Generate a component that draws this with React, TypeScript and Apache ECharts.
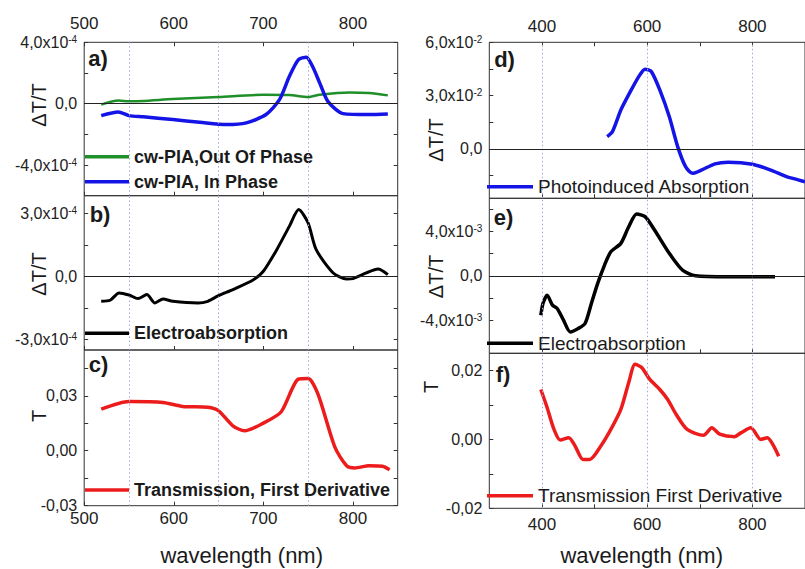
import React, { useEffect, useRef } from "react";
import * as echarts from "echarts";

// ---------- DATA ----------
// Panel a (values in units of 1e-4)
const aOutX = [519, 538, 550, 599, 650, 700, 729, 750, 763, 796, 818, 839];
const aOutY = [-0.06, 0.21, 0.15, 0.30, 0.43, 0.58, 0.56, 0.43, 0.58, 0.73, 0.69, 0.54];
const aInX = [519, 538, 550, 566, 599, 629, 659, 681, 703, 718, 729, 739, 748, 755, 763, 772, 789, 818, 839];
const aInY = [-0.78, -0.54, -0.78, -0.86, -1.04, -1.21, -1.36, -1.25, -0.71, 0.26, 1.77, 2.86, 3.03, 2.42, 1.34, 0.15, -0.65, -0.71, -0.67];
// Panel b (units of 1e-4)
const bX = [519, 529, 539, 550, 560, 570, 579, 588, 599, 627, 638, 650, 666, 689, 700, 715, 729, 739.5, 750, 759, 778, 793, 800, 815, 828, 839];
const bY = [-1.19, -1.14, -0.79, -0.89, -1.06, -0.87, -1.27, -1.08, -1.19, -1.27, -1.19, -0.92, -0.63, -0.16, 0.24, 1.27, 2.38, 3.18, 2.54, 1.27, 0.16, -0.13, -0.11, 0.16, 0.35, 0.08];
// Panel c
const cX = [519, 550, 588, 610, 638, 650, 666, 679, 700, 720, 739, 750, 761, 780, 793, 802, 818, 833, 841];
const cY = [0.0227, 0.0269, 0.0264, 0.0242, 0.0237, 0.0218, 0.0136, 0.0109, 0.0151, 0.0213, 0.0391, 0.0395, 0.0309, 0.0018, -0.0082, -0.0094, -0.0082, -0.0085, -0.0104];
// Panel d (units of 1e-2)
const dX = [524, 534, 550, 568, 584, 596, 608, 624, 642, 658, 673, 686, 704, 729, 754, 800, 834, 865, 887, 900];
const dY = [0.69, 0.97, 2.19, 3.22, 4.07, 4.49, 4.35, 3.32, 1.82, 0.13, -1.0, -1.37, -1.18, -0.84, -0.75, -0.86, -1.18, -1.56, -1.74, -1.85];
// Panel e (units of 1e-3)
const eX = [398, 402, 410, 420, 429, 441, 454, 469, 482, 494, 506, 519, 531, 550, 565, 580, 596, 614, 642, 667, 692, 754, 843];
const eY = [-3.56, -2.5, -1.75, -2.65, -2.95, -4.0, -5.07, -4.76, -4.31, -2.5, -0.69, 0.97, 2.17, 2.93, 4.43, 5.58, 5.34, 4.14, 2.03, 0.52, 0, -0.09, -0.09];
// Panel f
const fX = [398, 410, 423, 435, 451, 463, 478, 491, 512, 531, 550, 565, 577, 590, 605, 624, 639, 655, 676, 707, 723, 738, 766, 778, 797, 816, 828, 850];
const fY = [0.0145, 0.0092, 0.0029, -0.0002, 0.0005, -0.0019, -0.0058, -0.0058, -0.0019, 0.0029, 0.0087, 0.0165, 0.0218, 0.0208, 0.0174, 0.0145, 0.0116, 0.0073, 0.0029, 0.0012, 0.0034, 0.0015, 0.0008, 0.0019, 0.0034, 0, 0.0005, -0.0049];

// Series names
const nameAOut = "cw-PIA,Out Of Phase";
const nameAIn = "cw-PIA, In Phase";
const nameB = "Electroabsorption";
const nameC = "Transmission, First Derivative";
const nameD = "Photoinduced Absorption";
const nameE = "Electroabsorption ";
const nameF = "Transmission First Derivative";

// Ticks and labels
const leftXTicks = [500, 600, 700, 800];
const leftXLabels = [500, 600, 700, 800];
const rightXTicks = [400, 500, 600, 700, 800];
const rightXLabels = [400, 600, 800];
const leftGuides = [550, 650, 750];
const rightGuides = [400, 600, 800];

const aYTicks = [-4, -2, 0, 2, 4];
const aYLabelVals = [-4, 0, 4];
const aYLabelTxt = ["-4,0x10^-4", "0,0", "4,0x10^-4"];
const bYTicks = [-3, -1.5, 0, 1.5, 3];
const bYLabelVals = [-3, 0, 3];
const bYLabelTxt = ["-3,0x10^-4", "0,0", "3,0x10^-4"];
const cYTicks = [-0.03, -0.015, 0, 0.015, 0.03, 0.045];
const cYLabelVals = [-0.03, 0, 0.03];
const cYLabelTxt = ["-0,03", "0,00", "0,03"];
const dYTicks = [-1.5, 0, 1.5, 3, 4.5, 6];
const dYLabelVals = [0, 3, 6];
const dYLabelTxt = ["0,0", "3,0x10^-2", "6,0x10^-2"];
const eYTicks = [-6, -4, -2, 0, 2, 4, 6];
const eYLabelVals = [-4, 0, 4];
const eYLabelTxt = ["-4,0x10^-3", "0,0", "4,0x10^-3"];
const fYTicks = [-0.02, -0.01, 0, 0.01, 0.02];
const fYLabelVals = [-0.02, 0, 0.02];
const fYLabelTxt = ["-0,02", "0,00", "0,02"];

// ---------- STYLE ----------
const FONT = "'Liberation Sans', Arial, Helvetica, sans-serif";
const AX = "#333";
const GUIDE = "#a6a6d6";
const GREEN = "#1f8f2a";
const BLUE = "#1414e6";
const RED = "#ec1c1c";
const BLACK = "#000";

const zip = (xs: number[], ys: number[]) => xs.map((x, i) => [x, ys[i]]);

const yFormatter = (vals: number[], txt: string[]) => (v: number) => {
  const i = vals.findIndex((x) => Math.abs(x - v) < 1e-9);
  if (i < 0) return "";
  const [m, s] = txt[i].split("^");
  return s ? `{m|${m}}{s|${s}}` : `{m|${m}}`;
};

const yRich = {
  m: { fontSize: 16, fontFamily: FONT, color: "#222" },
  s: { fontSize: 10, fontFamily: FONT, color: "#222", verticalAlign: "top" },
};

const grids = [
  { left: 84.2, right: 407.3, top: 42.3, height: 153.4 },
  { left: 84.2, right: 407.3, top: 195.7, height: 154.3 },
  { left: 84.2, right: 407.3, top: 350, height: 155.7 },
  { left: 489.3, right: -7.7, top: 42.3, height: 156 },
  { left: 489.3, right: -7.7, top: 198.3, height: 155 },
  { left: 489.3, right: -7.7, top: 353.3, height: 155 },
].map((g) => ({ ...g, show: true, borderColor: AX, borderWidth: 1, backgroundColor: "transparent", containLabel: false }));

const tick = (vals: number[]) => ({ show: true, inside: true, length: 4, customValues: vals, lineStyle: { color: AX } });

const xAx = (gi: number, left: boolean, position: string, labels: number[] | null, margin: number) => ({
  type: "value",
  gridIndex: gi,
  position,
  min: left ? 500 : 300,
  max: left ? 850 : 900,
  axisLine: { show: false, onZero: false },
  splitLine: { show: false },
  axisTick: tick(left ? leftXTicks : rightXTicks),
  axisLabel: labels
    ? { show: true, customValues: labels, margin, fontSize: 17, fontFamily: FONT, color: "#222" }
    : { show: false },
});

const yAx = (gi: number, min: number, max: number, ticks: number[], lv: number[] | null, lt: string[] | null, position = "left") => ({
  type: "value",
  gridIndex: gi,
  position,
  min,
  max,
  axisLine: { show: false, onZero: false },
  splitLine: { show: false },
  axisTick: tick(ticks),
  axisLabel: lv && lt
    ? { show: true, customValues: lv, margin: 7, formatter: yFormatter(lv, lt), rich: yRich }
    : { show: false },
});

const guides = (xs: number[], zero: boolean) => ({
  silent: true,
  symbol: ["none", "none"],
  label: { show: false },
  emphasis: { disabled: true },
  animation: false,
  data: [
    ...xs.map((x) => ({ xAxis: x, lineStyle: { type: [1.5, 2.5], color: GUIDE, width: 1 } })),
    ...(zero ? [{ yAxis: 0, lineStyle: { type: "solid", color: "#222", width: 1 } }] : []),
  ],
});

const line = (name: string, xi: number, yi: number, data: number[][], color: string, width: number, ml: any) => ({
  type: "line",
  name,
  xAxisIndex: xi,
  yAxisIndex: yi,
  data,
  color,
  itemStyle: { color },
  showSymbol: false,
  smooth: 0.25,
  lineStyle: { color, width, join: "round" },
  emphasis: { disabled: true },
  markLine: ml,
  z: 3,
});

const legend = (names: string[], left: number, top: number, bold: boolean, size: number, iw: number, gap = 7) => ({
  data: names,
  orient: "vertical",
  left,
  top,
  padding: 0,
  itemGap: gap,
  icon: "rect",
  itemWidth: iw,
  itemHeight: 3.5,
  selectedMode: false,
  textStyle: { fontSize: size, fontFamily: FONT, fontWeight: bold ? "bold" : "normal", color: "#1a1a1a" },
});

const txt = (text: string, x: number, y: number, size: number, bold = false, rot = 0) => ({
  type: "text",
  x,
  y,
  rotation: rot,
  silent: true,
  style: {
    text,
    fontSize: size,
    fontFamily: FONT,
    fontWeight: bold ? "bold" : "normal",
    fill: "#1a1a1a",
    textAlign: "center",
    textVerticalAlign: "middle",
  },
});

const option = {
  animation: false,
  backgroundColor: "#fff",
  grid: grids,
  xAxis: [
    xAx(0, true, "bottom", null, 4),
    xAx(1, true, "bottom", null, 4),
    xAx(2, true, "bottom", leftXLabels, 4),
    xAx(3, false, "bottom", null, 4),
    xAx(4, false, "bottom", null, 4),
    xAx(5, false, "bottom", rightXLabels, 8),
    xAx(0, true, "top", leftXLabels, 10),
    xAx(3, false, "top", rightXLabels, 7),
  ],
  yAxis: [
    yAx(0, -6, 4, aYTicks, aYLabelVals, aYLabelTxt),
    yAx(1, -3.51, 3.84, bYTicks, bYLabelVals, bYLabelTxt),
    yAx(2, -0.03, 0.055, cYTicks, cYLabelVals, cYLabelTxt),
    yAx(3, -2.78, 6, dYTicks, dYLabelVals, dYLabelTxt),
    yAx(4, -7, 7, eYTicks, eYLabelVals, eYLabelTxt),
    yAx(5, -0.02, 0.025, fYTicks, fYLabelVals, fYLabelTxt),
    yAx(0, -6, 4, aYTicks, null, null, "right"),
    yAx(1, -3.51, 3.84, bYTicks, null, null, "right"),
    yAx(2, -0.03, 0.055, cYTicks, null, null, "right"),
  ],
  legend: [
    legend([nameAOut, nameAIn], 85, 147.7, true, 18, 44, 7),
    legend([nameB], 85, 324.3, true, 18, 44),
    legend([nameC], 85, 481, true, 18, 44),
    legend([nameD], 487, 177.2, false, 19, 46),
    legend([nameE], 487, 333.8, false, 19, 46),
    legend([nameF], 487, 486.2, false, 19, 46),
  ],
  series: [
    line(nameAOut, 0, 0, zip(aOutX, aOutY), GREEN, 2.5, guides(leftGuides, true)),
    line(nameAIn, 0, 0, zip(aInX, aInY), BLUE, 3.5, undefined),
    line(nameB, 1, 1, zip(bX, bY), BLACK, 3, guides(leftGuides, true)),
    line(nameC, 2, 2, zip(cX, cY), RED, 3.5, guides(leftGuides, false)),
    line(nameD, 3, 3, zip(dX, dY), BLUE, 3.5, guides(rightGuides, true)),
    line(nameE, 4, 4, zip(eX, eY), BLACK, 3.5, guides(rightGuides, true)),
    line(nameF, 5, 5, zip(fX, fY), RED, 3.5, guides(rightGuides, false)),
  ],
  graphic: [
    txt("ΔT/T", 38.5, 105, 20, false, Math.PI / 2),
    txt("ΔT/T", 39, 274, 20, false, Math.PI / 2),
    txt("T", 38.5, 416, 20, false, Math.PI / 2),
    txt("ΔT/T", 436, 140, 20, false, Math.PI / 2),
    txt("ΔT/T", 436, 276.5, 20, false, Math.PI / 2),
    txt("T", 431, 387, 20, false, Math.PI / 2),
    txt("a)", 98, 58, 22, true),
    txt("b)", 100, 214, 22, true),
    txt("c)", 98.5, 364, 22, true),
    txt("d)", 504.5, 59, 22, true),
    txt("e)", 503.5, 217.5, 22, true),
    txt("f)", 503, 374, 22, true),
    txt("wavelength (nm)", 241.7, 555, 22),
    txt("wavelength (nm)", 641.7, 555, 22),
  ],
};

export default function App() {
  const ref = useRef<HTMLDivElement>(null);
  useEffect(() => {
    const chart = echarts.init(ref.current as HTMLDivElement, null, { renderer: "svg" });
    chart.setOption(option as any);
    return () => chart.dispose();
  }, []);
  return (
    <div
      ref={ref}
      style={{ position: "fixed", left: 0, top: 0, width: 805, height: 569, background: "#fff" }}
    />
  );
}
